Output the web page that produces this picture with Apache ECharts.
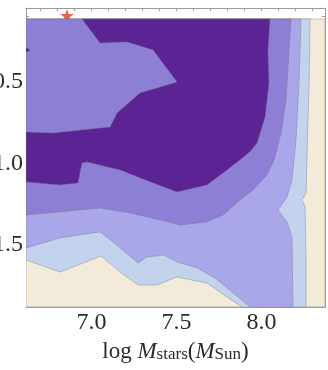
<!DOCTYPE html>
<html>
<head>
<meta charset="utf-8">
<script src="https://cdn.jsdelivr.net/npm/echarts@6/dist/echarts.min.js"></script>
<style>
  html, body { margin: 0; padding: 0; background: #ffffff; }
  #chart { width: 328px; height: 370px; }
</style>
</head>
<body>
<div id="chart"></div>
<script>
// Axis extents (log stellar mass on x, log-scale quantity on y)
const xRange = [6.615, 8.373];
const yRange = [-1.88, -0.049];
const contourTop = -0.116;

// Labelled tick values
const xLabelValues = [7.0, 7.5, 8.0];
const yLabelValues = [-0.5, -1.0, -1.5];

// Reference object marked with a star
const markerX = [6.856];
const markerY = [-0.095];

// Contour band colours, lowest level first
const bandColors = ['#f3ebd9', '#c3d3ee', '#a9a7ea', '#8e7fd6', '#5b2394'];

// Level 0: whole sampled domain
const level0 = [
  [6.615, contourTop], [8.373, contourTop], [8.373, -1.88], [6.615, -1.88]
];

// Level 1 region (light blue)
const level1 = [
  [6.615, contourTop], [8.285, contourTop], [8.28, -0.5], [8.268, -0.918],
  [8.262, -1.182], [8.238, -1.224], [8.256, -1.267], [8.262, -1.6], [8.262, -1.88],
  [7.885, -1.88], [7.797, -1.819], [7.679, -1.733], [7.503, -1.696],
  [7.385, -1.745], [7.274, -1.745], [7.168, -1.666], [7.056, -1.568],
  [6.815, -1.666], [6.615, -1.592]
];

// Level 2 region (lavender)
const level2 = [
  [6.615, contourTop], [8.232, contourTop], [8.221, -0.49], [8.203, -0.857],
  [8.179, -1.10], [8.150, -1.206], [8.097, -1.286], [8.150, -1.359],
  [8.179, -1.451], [8.185, -1.88], [7.932, -1.88], [7.826, -1.788],
  [7.726, -1.703], [7.621, -1.641], [7.503, -1.605], [7.426, -1.562],
  [7.326, -1.574], [7.274, -1.611], [7.126, -1.482], [7.050, -1.420],
  [6.815, -1.457], [6.615, -1.519]
];

// Level 3 region (medium purple)
const level3 = [
  [6.615, contourTop], [8.174, contourTop], [8.162, -0.306], [8.144, -0.612],
  [8.115, -0.814], [8.074, -0.979], [8.032, -1.071], [7.950, -1.163],
  [7.874, -1.224], [7.774, -1.316], [7.679, -1.359], [7.521, -1.378],
  [7.403, -1.347], [7.226, -1.304], [7.050, -1.274], [6.815, -1.298],
  [6.615, -1.316]
];

// Level 4 region (dark purple)
const level4 = [
  [6.944, contourTop], [8.050, contourTop], [8.038, -0.306], [8.044, -0.508],
  [8.021, -0.716], [7.974, -0.875], [7.932, -0.930], [7.874, -0.979],
  [7.797, -1.041], [7.679, -1.133], [7.503, -1.176], [7.362, -1.120],
  [7.168, -1.041], [6.974, -0.992], [6.944, -0.998], [6.921, -1.120],
  [6.815, -1.133], [6.615, -1.114], [6.615, -0.808], [6.774, -0.814],
  [7.109, -0.777], [7.150, -0.692], [7.285, -0.569], [7.503, -0.502],
  [7.362, -0.306], [7.209, -0.257], [7.050, -0.263]
];

// Small isolated level-4 island at the left edge
const level4Island = [
  [6.615, -0.290], [6.640, -0.306], [6.615, -0.322]
];

const bands = [
  { pts: level0, color: bandColors[0] },
  { pts: level1, color: bandColors[1] },
  { pts: level2, color: bandColors[2] },
  { pts: level3, color: bandColors[3] },
  { pts: level4, color: bandColors[4] },
  { pts: level4Island, color: bandColors[4] }
];

// Minor tick positions every 0.1
function tickList(from, to) {
  const out = [];
  for (let k = Math.round(from * 10); k <= Math.round(to * 10); k++) out.push(k / 10);
  return out;
}
const xTicks = tickList(6.7, 8.3);
const yTicks = tickList(-1.8, -0.1);

const frameColor = '#9a9a9a';
const textColor = '#2b2b2b';
const serif = '"Liberation Serif", "DejaVu Serif", serif';

function axisCommon(extraTick) {
  return {
    axisLine: { show: true, onZero: false, lineStyle: { color: frameColor, width: 1 } },
    axisTick: Object.assign({ show: true, inside: true, length: 3, lineStyle: { color: frameColor } }, extraTick),
    splitLine: { show: false }
  };
}

const chart = echarts.init(document.getElementById('chart'), null, { renderer: 'canvas' });

chart.setOption({
  animation: false,
  backgroundColor: '#ffffff',
  grid: { left: 26, right: 3, top: 8, bottom: 63, containLabel: false, outerBoundsMode: 'none' },
  xAxis: [
    Object.assign({
      type: 'value', position: 'bottom', min: xRange[0], max: xRange[1],
      axisLabel: {
        customValues: xLabelValues, margin: 4,
        formatter: v => v.toFixed(1),
        color: textColor, fontFamily: serif, fontSize: 24
      },
      name: '{n|log }{i|M}{s|stars}{n|(}{i|M}{s|Sun}{n|)}',
      nameLocation: 'middle', nameGap: 28,
      nameTextStyle: {
        color: textColor, fontFamily: serif,
        rich: {
          n: { fontFamily: serif, fontSize: 23, color: textColor, verticalAlign: 'bottom', lineHeight: 28 },
          i: { fontFamily: serif, fontSize: 23, fontStyle: 'italic', color: textColor, verticalAlign: 'bottom', lineHeight: 28 },
          s: { fontFamily: serif, fontSize: 17, color: textColor, verticalAlign: 'bottom', lineHeight: 20 }
        }
      }
    }, axisCommon({ customValues: xTicks })),
    Object.assign({
      type: 'value', position: 'top', min: xRange[0], max: xRange[1],
      axisLabel: { show: false }
    }, axisCommon({ customValues: xTicks }))
  ],
  yAxis: [
    Object.assign({
      type: 'value', position: 'left', min: yRange[0], max: yRange[1],
      axisLabel: {
        customValues: yLabelValues, margin: 3,
        formatter: v => (v < 0 ? '\u2212' : '') + Math.abs(v).toFixed(1),
        color: textColor, fontFamily: serif, fontSize: 24
      }
    }, axisCommon({ customValues: yTicks })),
    Object.assign({
      type: 'value', position: 'right', min: yRange[0], max: yRange[1],
      axisLabel: { show: false }
    }, axisCommon({ customValues: yTicks }))
  ],
  series: [
    {
      type: 'scatter',
      xAxisIndex: 0, yAxisIndex: 0,
      data: markerX.map((x, i) => [x, markerY[i]]),
      symbol: 'path://M50,0 L61,35 L98,35 L68,57 L79,91 L50,70 L21,91 L32,57 L2,35 L39,35 Z',
      symbolSize: 14,
      itemStyle: { color: '#e2382c' },
      z: 1
    },
    {
      type: 'custom',
      xAxisIndex: 0, yAxisIndex: 0,
      data: bands.map(b => [b.pts[0][0], b.pts[0][1]]),
      clip: true,
      z: 2,
      renderItem: function (params, api) {
        const band = bands[params.dataIndex];
        const points = band.pts.map(p => api.coord(p));
        return {
          type: 'polygon',
          shape: { points: points },
          style: { fill: band.color, stroke: 'rgba(120,120,120,0.5)', lineWidth: 0.8 }
        };
      }
    }
  ]
});
</script>
</body>
</html>
